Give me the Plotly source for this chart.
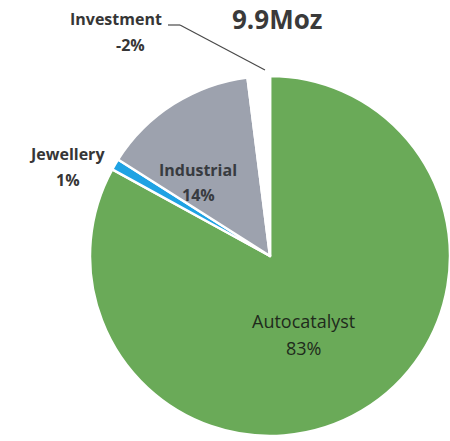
import plotly.graph_objects as go

# Platinum demand mix, share of total (%)
segments = ["Autocatalyst", "Jewellery", "Industrial", "Investment"]
shares = [83, 1, 14, -2]
total_label = "9.9Moz"

slice_colors = ["#6aaa58", "#1fa2e3", "#9da2ae", "#ffffff"]
text_color = "#363636"
font_family = "Open Sans"

W, H = 450, 441


def px(x, y):
    """Convert pixel position (from top-left) to paper coordinates."""
    return x / W, (H - y) / H


fig = go.Figure(
    go.Pie(
        labels=segments,
        values=[abs(v) for v in shares],
        sort=False,
        direction="clockwise",
        rotation=0,
        marker=dict(colors=slice_colors, line=dict(color="#ffffff", width=2.5)),
        textinfo="none",
        hoverinfo="label+percent",
        showlegend=False,
        domain=dict(x=[0.2, 1.0], y=[5 / H, 365 / H]),
    )
)

# label placement (pixel centres) for name line and value line
label_pos = {
    "Autocatalyst": ((303, 321), (303, 348), 18, "normal", "#1f2a1c"),
    "Jewellery": ((67, 154), (68, 180), 16, "bold", text_color),
    "Industrial": ((198, 170), (198, 195), 16, "bold", "#383b40"),
    "Investment": ((116, 19), (130, 45), 16, "bold", text_color),
}

annotations = []
for name, share in zip(segments, shares):
    (nx, ny), (vx, vy), size, weight, color = label_pos[name]
    for text, (x, y) in ((name, (nx, ny)), (f"{share}%", (vx, vy))):
        ax, ay = px(x, y)
        annotations.append(
            dict(
                x=ax, y=ay, xref="paper", yref="paper",
                text=text, showarrow=False,
                xanchor="center", yanchor="middle",
                font=dict(family=font_family, size=size, color=color, weight=weight),
            )
        )

tx, ty = px(277, 19)
annotations.append(
    dict(
        x=tx, y=ty, xref="paper", yref="paper", text=total_label,
        showarrow=False, xanchor="center", yanchor="middle",
        font=dict(family=font_family, size=26, color="#3a3a3a", weight="bold"),
    )
)

# leader line from the Investment label to its slice
p0, p1, p2 = px(168, 25), px(180, 25), px(265, 70)
shapes = [
    dict(type="line", xref="paper", yref="paper",
         x0=p0[0], y0=p0[1], x1=p1[0], y1=p1[1],
         line=dict(color="#4a4a4a", width=1.2)),
    dict(type="line", xref="paper", yref="paper",
         x0=p1[0], y0=p1[1], x1=p2[0], y1=p2[1],
         line=dict(color="#4a4a4a", width=1.2)),
]

fig.update_layout(
    width=W, height=H,
    margin=dict(l=0, r=0, t=0, b=0),
    paper_bgcolor="#ffffff",
    plot_bgcolor="#ffffff",
    annotations=annotations,
    shapes=shapes,
)

fig.write_html("out.html")
